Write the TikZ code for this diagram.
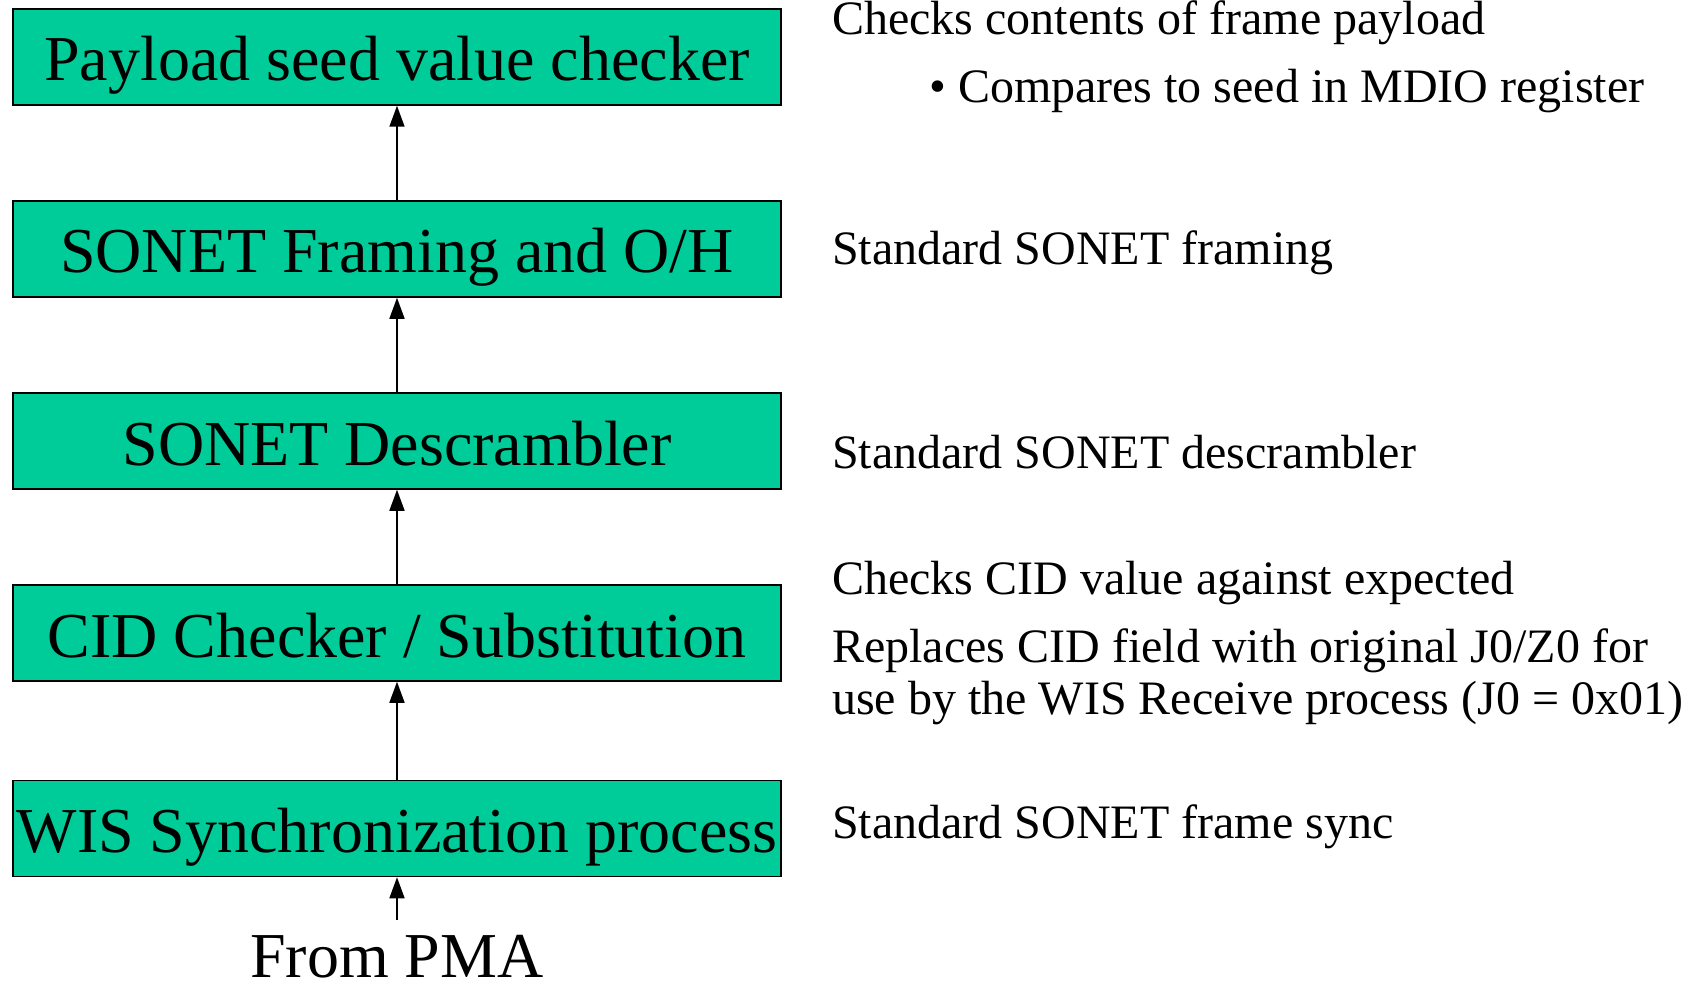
\documentclass[tikz,border=0pt]{standalone}
\usepackage{fontspec}
\setmainfont{Liberation Serif}
\usetikzlibrary{arrows.meta}
\definecolor{wisgreen}{RGB}{0,204,153}
\tikzset{
  stage/.style = { draw, fill=wisgreen, line width=1.5pt, inner sep=0pt,
                   minimum width=768pt, minimum height=96pt,
                   text height=48pt, text depth=0pt,
                   font=\fontsize{64}{70}\selectfont },
  flow/.style  = { -{Triangle[width=15pt,length=21pt]}, line width=1.6pt },
  note/.style  = { anchor=base west, inner sep=0pt, align=left,
                   font=\fontsize{48}{52}\selectfont }
}

\begin{document}
\begin{tikzpicture}[x=1pt,y=-1pt]
\useasboundingbox (0,0) rectangle (1697,984);
% receive path, bottom to top
\node[stage] (payload) at (397,57)    {Payload seed value checker};
\node[stage] (framing) at (397,249)   {SONET Framing and O/H};
\node[stage] (descr)   at (397,441)   {SONET Descrambler};
\node[stage] (cid)     at (397,633)   {CID Checker / Substitution};
\node[stage] (sync)    at (397,828.5) {WIS Synchronization process};
\node[inner sep=0pt, anchor=base, font=\fontsize{64}{70}\selectfont] (pma) at (397,977) {From PMA};

\draw[flow] ([yshift=15pt]pma.north) -- (sync.south);
\draw[flow] (sync) -- (cid);
\draw[flow] (cid) -- (descr);
\draw[flow] (descr) -- (framing);
\draw[flow] (framing) -- (payload);

% notes
\node[note] (n1) at (832,35)  {Checks contents of frame payload};
\node[note] (n2) at (929,103) {\textbullet\ Compares to seed in MDIO register};
\node[note] (n3) at (832,265) {Standard SONET framing};
\node[note] (n4) at (832,468) {Standard SONET descrambler};
\node[note] (n5) at (832,594) {Checks CID value against expected};
\node[note] (n6) at (832,714) {Replaces CID field with original J0/Z0 for\\use by the WIS Receive process (J0 = 0x01)};
\node[note] (n7) at (832,838) {Standard SONET frame sync};
\end{tikzpicture}
\end{document}
